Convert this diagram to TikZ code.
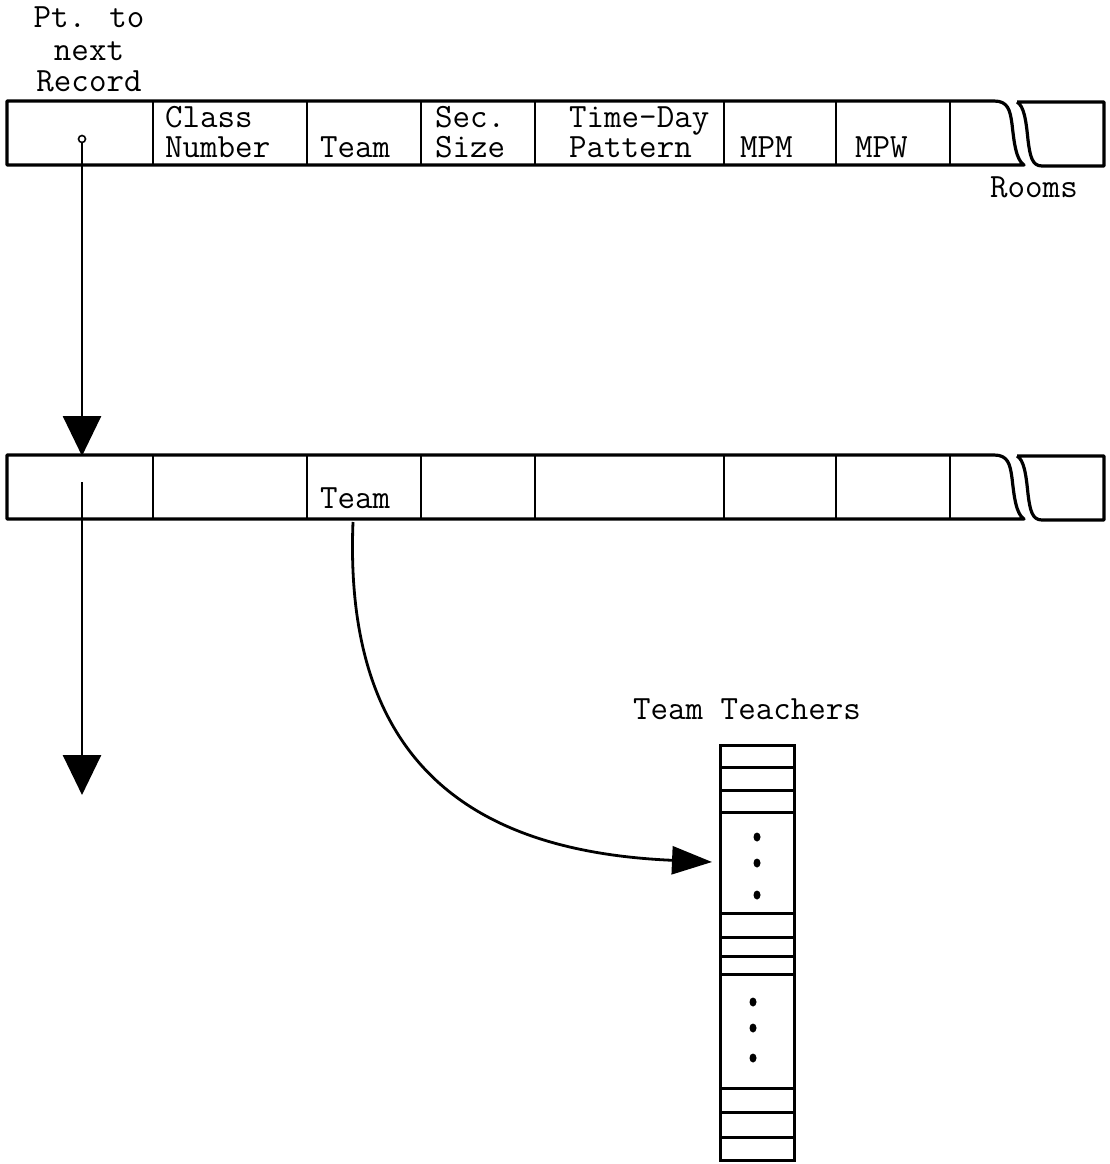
\documentclass[tikz,border=0pt]{standalone}
\usepackage{fontspec}
\usetikzlibrary{arrows.meta}
\begin{document}
\begin{tikzpicture}[x=1pt,y=-1pt,
  txt/.style={font=\ttfamily\fontsize{34}{30}\selectfont, inner sep=0pt, anchor=base west, align=left},
  ctxt/.style={font=\ttfamily\fontsize{34}{32}\selectfont, inner sep=0pt, anchor=base, align=center},
  rec/.style={line width=3.2pt, line join=round},
  divider/.style={line width=2.2pt},
  ptrline/.style={line width=2.8pt},
  bigtip/.style={-{Triangle[length=40pt,width=38pt]}},
  curvetip/.style={-{Triangle[length=40pt,width=28pt]}},
  colline/.style={line width=3pt},
  dot/.style={fill=black, draw=none}
]
\useasboundingbox (0,0) rectangle (1109,1164);

% ---- two record outlines ----
\foreach \dy in {0,354}{
\begin{scope}[yshift=-\dy pt]
  \draw[rec] (7,101) -- (994,101) .. controls (1008,101) and (1010,110) .. (1012,124)
             .. controls (1014,142) and (1016,160) .. (1024,165) -- (7,165) -- cycle;
  \draw[rec] (1017,102) -- (1104,102) -- (1104,166) -- (1042,166)
             .. controls (1032,166) and (1030,156) .. (1028,140)
             .. controls (1026,120) and (1024,106) .. (1017,102);
  \foreach \x in {153,307,421,535,724,836,950}
    \draw[divider] (\x,101) -- (\x,165);
\end{scope}
}

% ---- labels above / in first record ----
\node[ctxt] (pt) at (89,92) {Pt. to\\next\\Record};

\node[txt] (cls) at (165,157) {Class\\Number};
\node[txt] (team1) at (320,157) {Team};
\node[txt] (sec) at (435,157) {Sec.\\Size};
\node[txt] (tdp) at (569,157) {Time-Day\\Pattern};
\node[txt] (mpm) at (740,157) {MPM};
\node[txt] (mpw) at (855,157) {MPW};
\node[txt] (rooms) at (990,197) {Rooms};

% ---- second record text ----
\node[txt] (team2) at (320,508) {Team};

% ---- team teachers column ----
\node[ctxt] (ttlabel) at (747,719) {Team Teachers};
\node[draw, line width=3pt, minimum width=74pt, minimum height=415pt, inner sep=0pt]
  (tt) at (757,952.5) {};
\foreach \yy in {767,790,812,913,937,956,974,1088,1112,1137}
  \draw[colline] (720,\yy) -- (794,\yy);
\foreach \px/\py in {757/837,757/863,757/895,753/1002,753/1028,753/1058}
  \fill[dot] (\px,\py) ellipse (3.5pt and 4.5pt);

% ---- connectors ----
\node[draw, circle, line width=1.6pt, minimum size=7pt, inner sep=0pt] (ptr) at (82,139) {};
\coordinate (r2top) at (82,456);
\coordinate (r2ptr) at (82,482);
\coordinate (nextrec) at (82,795);
\coordinate (teamsrc) at (353,522);
\coordinate (ttin) at (712,862);

\draw[ptrline, bigtip] (ptr.south) -- (r2top);
\draw[ptrline, bigtip] (r2ptr) -- (nextrec);
\draw[ptrline, curvetip] (teamsrc) .. controls (343,770) and (480,852) .. (ttin);
\end{tikzpicture}
\end{document}
